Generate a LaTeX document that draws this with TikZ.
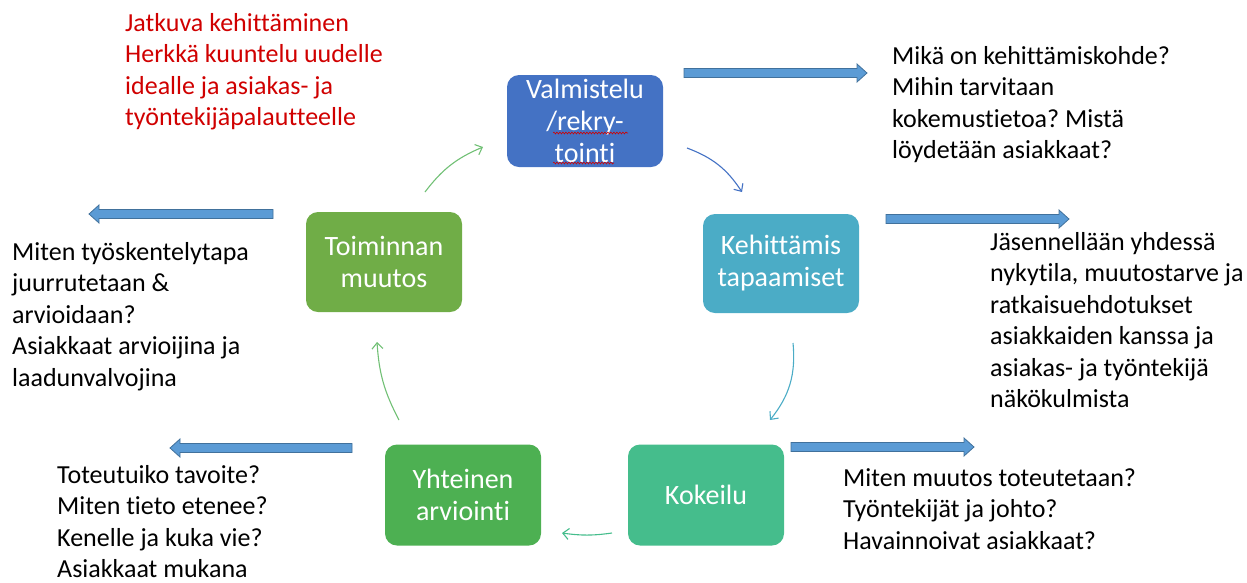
\documentclass[tikz,border=0pt]{standalone}
\usepackage{fontspec}
\setmainfont[Ligatures={NoCommon,NoContextual,NoRequired},RawFeature={-liga;-clig;-calt}]{Carlito}
\usetikzlibrary{arrows.meta,decorations.pathmorphing}
\definecolor{valmblue}{HTML}{4472C4}
\definecolor{kehteal}{HTML}{4BACC6}
\definecolor{kokgreen}{HTML}{45BD8C}
\definecolor{yhtgreen}{HTML}{4DB052}
\definecolor{toimgreen}{HTML}{70AD47}
\definecolor{arrowfill}{HTML}{5B9BD5}
\definecolor{arrowline}{HTML}{41719C}
\definecolor{notered}{HTML}{D00000}
\frenchspacing
\tikzset{
  stepbox/.style={rounded corners=12pt, minimum width=156pt, text=white,
    align=center, inner sep=0pt, font=\fontsize{28}{32}\selectfont},
  note/.style={anchor=north west, inner sep=0pt, align=left,
    font=\fontsize{26}{31.5}\selectfont},
  looparrow/.style={line width=1.1pt, -{Straight Barb[length=6pt,width=11pt]}},
  barrow/.style={fill=arrowfill, draw=arrowline, line width=0.8pt},
  spell/.style={notered, line width=0.6pt, decorate,
    decoration={snake, amplitude=0.9pt, segment length=3pt}}
}
% block arrow: from x #1 to x #2 at height #3
\newcommand{\blockarrow}[3]{%
  \pgfmathsetmacro\bdir{sign(#2-#1)}
  \filldraw[barrow] (#1,#3+4.5) -- ({#2-\bdir*10},#3+4.5) -- ({#2-\bdir*10},#3+9)
    -- (#2,#3) -- ({#2-\bdir*10},#3-9) -- ({#2-\bdir*10},#3-4.5) -- (#1,#3-4.5) -- cycle;}
\begin{document}
\begin{tikzpicture}[x=1pt,y=1pt]
  \useasboundingbox (0,0) rectangle (1247,-582);
  % cycle steps
  \node[stepbox, fill=valmblue, minimum height=92pt] (valm) at (585,-121) {Valmistelu\\/rekry-\\tointi};
  \node[stepbox, fill=kehteal, minimum height=99pt] (keh) at (781,-263.5) {Kehittämis\\tapaamiset};
  \node[stepbox, fill=kokgreen, minimum height=101pt] (kok) at (706,-495) {Kokeilu};
  \node[stepbox, fill=yhtgreen, minimum height=101pt] (yht) at (463,-495) {Yhteinen\\arviointi};
  \node[stepbox, fill=toimgreen, minimum height=100pt] (toim) at (384,-262) {Toiminnan\\muutos};
  % spell check marks
  \draw[spell] (553,-133) -- (628,-133);
  \draw[spell] (553,-163) -- (614,-163);
  % arrow ends
  \coordinate (v1) at (687,-148);
  \coordinate (k0) at (742,-192);
  \coordinate (k1) at (793,-343);
  \coordinate (o0) at (770,-420);
  \coordinate (o1) at (612,-533);
  \coordinate (y0) at (562,-533);
  \coordinate (y1) at (399,-420);
  \coordinate (t0) at (377,-342);
  \coordinate (t1) at (425,-192);
  \coordinate (v0) at (483,-147);
  \draw[looparrow, valmblue] (v1) to[bend left=18] (k0);
  \draw[looparrow, kehteal] (k1) to[bend left=22] (o0);
  \draw[looparrow, kokgreen] (o1) to[bend left=8] (y0);
  \draw[looparrow, yhtgreen!80!white] (y1) to[bend left=12] (t0);
  \draw[looparrow, yhtgreen!80!white] (t1) to[bend left=15] (v0);
  % block arrows
  \blockarrow{684}{867}{-73}
  \blockarrow{886}{1069}{-219}
  \blockarrow{791}{974}{-447}
  \blockarrow{273}{89}{-214}
  \blockarrow{352}{170}{-448}
  % notes
  \node[note, text=notered] (idea) at (125,-9) {\strut Jatkuva kehittäminen\\Herkkä kuuntelu uudelle\\idealle ja asiakas- ja\\työntekijäpalautteelle};
  \node[note] (mika) at (892,-42) {\strut Mikä on kehittämiskohde?\\Mihin tarvitaan\\kokemustietoa? Mistä\\löydetään asiakkaat?};
  \node[note] (jas) at (990,-228) {\strut Jäsennellään yhdessä\\nykytila, muutostarve ja\\ratkaisuehdotukset\\asiakkaiden kanssa ja\\asiakas- ja työntekijä\\näkökulmista};
  \node[note] (miten) at (843,-464) {\strut Miten muutos toteutetaan?\\Työntekijät ja johto?\\Havainnoivat asiakkaat?};
  \node[note] (juur) at (12,-238) {\strut Miten työskentelytapa\\juurrutetaan \&\\arvioidaan?\\Asiakkaat arvioijina ja\\laadunvalvojina};
  \node[note] (tot) at (57,-461) {\strut Toteutuiko tavoite?\\Miten tieto etenee?\\Kenelle ja kuka vie?\\Asiakkaat mukana};
\end{tikzpicture}
\end{document}
